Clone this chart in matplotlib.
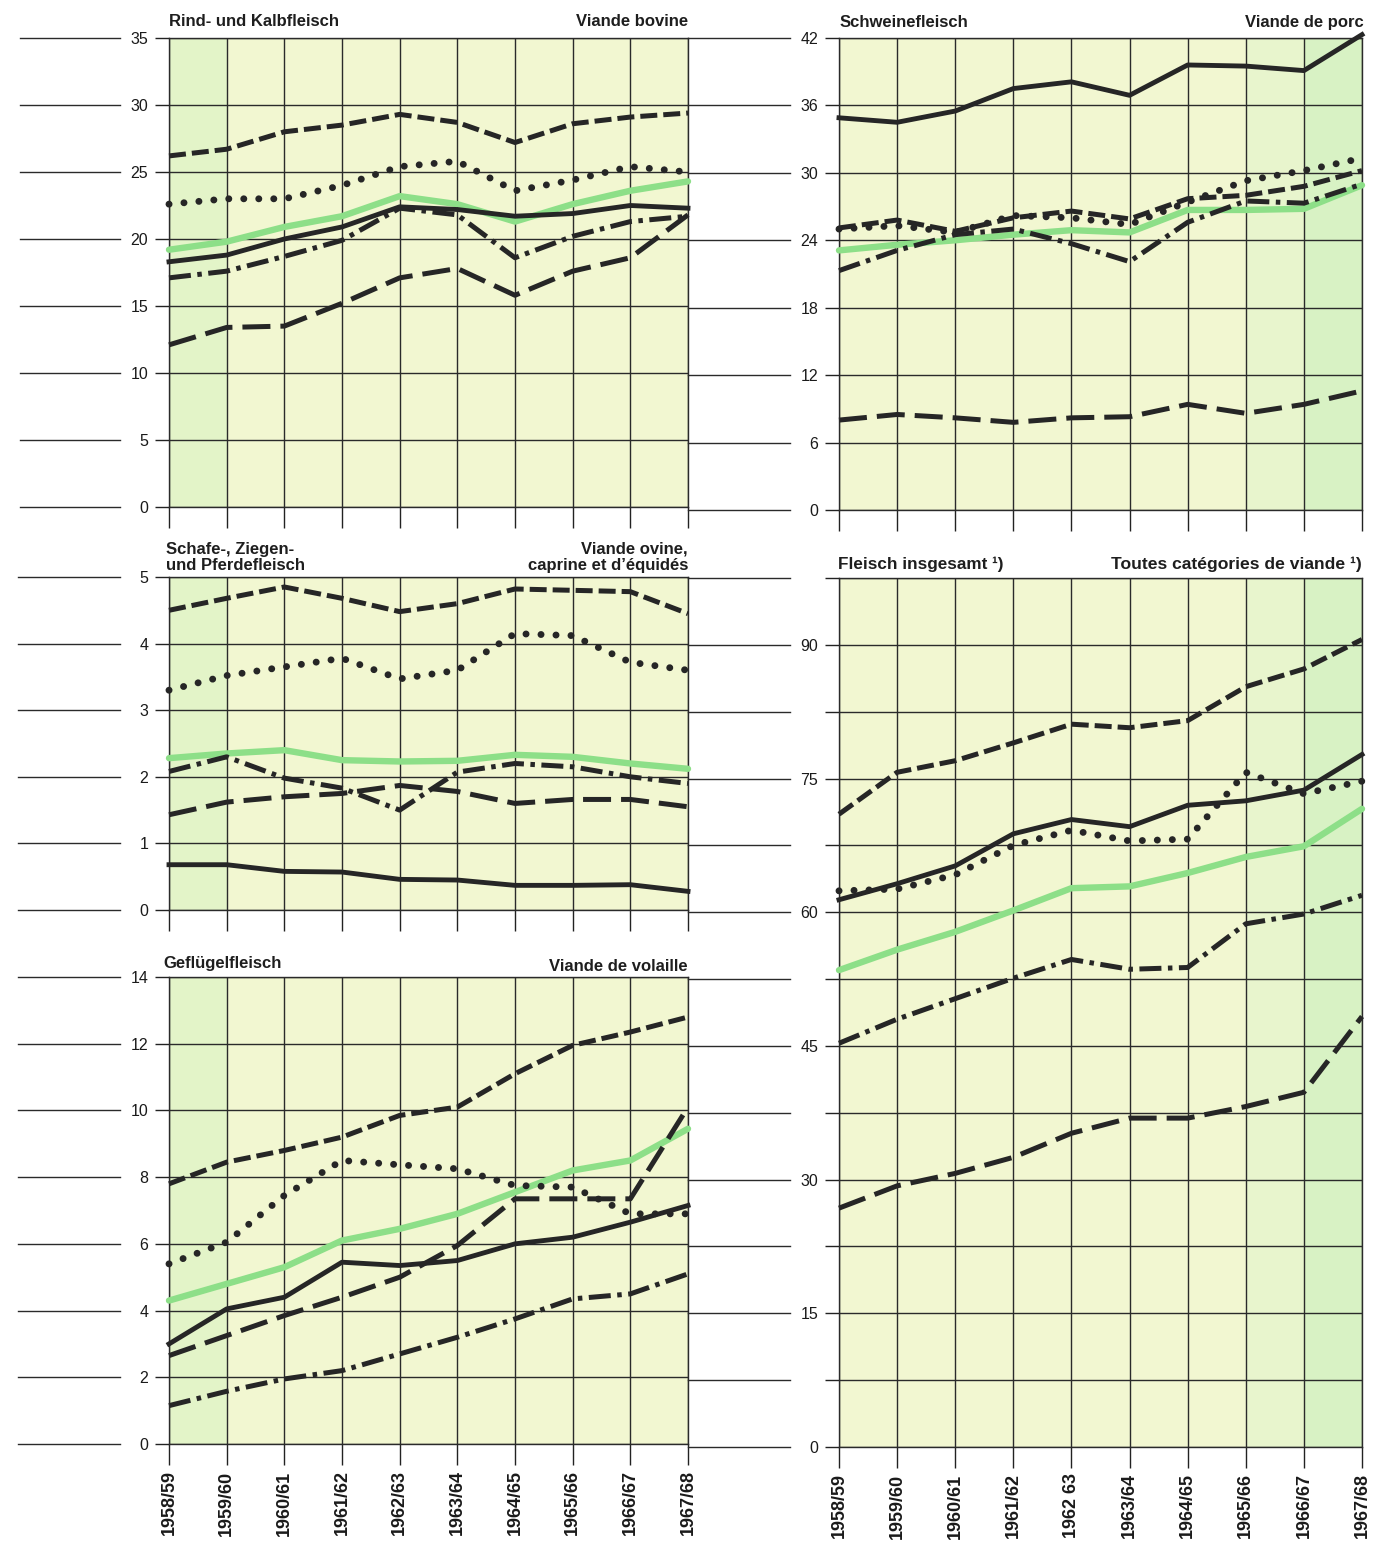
import matplotlib
matplotlib.use("Agg")
import matplotlib.pyplot as plt
from matplotlib.lines import Line2D
from matplotlib import transforms
from matplotlib import font_manager as fm

# ---------------- data ----------------
years = ["1958/59", "1959/60", "1960/61", "1961/62", "1962/63",
         "1963/64", "1964/65", "1965/66", "1966/67", "1967/68"]
years_right = ["1958/59", "1959/60", "1960/61", "1961/62", "1962 63",
               "1963/64", "1964/65", "1965/66", "1966/67", "1967/68"]

# Rind- und Kalbfleisch
beef_de = [18.3, 18.8, 20.0, 20.9, 22.4, 22.2, 21.7, 21.9, 22.5, 22.3]
beef_fr = [26.2, 26.7, 28.0, 28.5, 29.3, 28.7, 27.2, 28.6, 29.1, 29.4]
beef_it = [12.1, 13.4, 13.5, 15.2, 17.1, 17.8, 15.8, 17.6, 18.6, 21.8]
beef_nl = [17.1, 17.6, 18.7, 19.9, 22.3, 21.8, 18.6, 20.2, 21.3, 21.7]
beef_be = [22.6, 23.0, 23.0, 24.0, 25.4, 25.8, 23.6, 24.4, 25.4, 25.0]
beef_eec = [19.2, 19.8, 20.9, 21.7, 23.2, 22.6, 21.3, 22.6, 23.6, 24.3]

# Schafe-, Ziegen- und Pferdefleisch
sheep_de = [0.68, 0.68, 0.58, 0.57, 0.46, 0.45, 0.37, 0.37, 0.38, 0.28]
sheep_fr = [4.50, 4.68, 4.85, 4.68, 4.48, 4.60, 4.82, 4.80, 4.78, 4.45]
sheep_it = [1.43, 1.62, 1.70, 1.75, 1.87, 1.78, 1.60, 1.66, 1.66, 1.55]
sheep_nl = [2.08, 2.30, 1.98, 1.83, 1.50, 2.07, 2.20, 2.15, 2.00, 1.90]
sheep_be = [3.30, 3.52, 3.65, 3.78, 3.47, 3.60, 4.15, 4.12, 3.72, 3.60]
sheep_eec = [2.28, 2.35, 2.40, 2.25, 2.23, 2.24, 2.33, 2.30, 2.20, 2.12]

# Geflügelfleisch
poul_de = [3.0, 4.05, 4.4, 5.45, 5.35, 5.5, 6.0, 6.2, 6.65, 7.15]
poul_fr = [7.8, 8.45, 8.8, 9.2, 9.85, 10.1, 11.1, 11.95, 12.35, 12.8]
poul_it = [2.65, 3.25, 3.85, 4.4, 5.0, 5.95, 7.35, 7.35, 7.35, 10.1]
poul_nl = [1.15, 1.58, 1.95, 2.2, 2.7, 3.2, 3.75, 4.35, 4.5, 5.1]
poul_be = [5.4, 6.05, 7.45, 8.5, 8.37, 8.25, 7.75, 7.7, 6.9, 6.9]
poul_eec = [4.3, 4.8, 5.3, 6.1, 6.45, 6.9, 7.55, 8.2, 8.5, 9.45]

# Schweinefleisch
pork_de = [34.9, 34.5, 35.5, 37.5, 38.1, 36.9, 39.6, 39.5, 39.1, 42.3]
pork_fr = [25.1, 25.8, 24.8, 26.0, 26.6, 25.9, 27.7, 28.0, 28.8, 30.2]
pork_it = [8.0, 8.5, 8.2, 7.8, 8.2, 8.3, 9.4, 8.6, 9.4, 10.6]
pork_nl = [21.3, 23.1, 24.5, 25.0, 23.7, 22.1, 25.6, 27.5, 27.3, 29.0]
pork_be = [25.0, 25.3, 24.7, 26.2, 26.0, 25.4, 27.4, 29.3, 30.2, 31.3]
pork_eec = [23.1, 23.6, 24.0, 24.5, 24.9, 24.7, 26.7, 26.7, 26.8, 28.9]

# Fleisch insgesamt
total_de = [61.4, 63.2, 65.2, 68.8, 70.4, 69.6, 72.0, 72.5, 73.7, 77.7]
total_fr = [71.0, 75.7, 77.0, 79.0, 81.1, 80.7, 81.5, 85.3, 87.3, 90.6]
total_it = [26.8, 29.3, 30.7, 32.5, 35.2, 36.9, 36.9, 38.2, 39.8, 48.3]
total_nl = [45.3, 48.0, 50.3, 52.6, 54.7, 53.6, 53.8, 58.7, 59.8, 61.9]
total_be = [62.4, 62.6, 64.2, 67.5, 69.2, 68.0, 68.2, 75.7, 73.3, 74.7]
total_eec = [53.5, 55.8, 57.8, 60.2, 62.7, 62.9, 64.4, 66.2, 67.4, 71.6]

# ---------------- styles ----------------
INK = "#262626"
GREEN = "#8ddf88"
styles = {
    "eec": dict(color=GREEN, lw=4.6, ls="-", solid_capstyle="round"),
    "de": dict(color=INK, lw=3.5, ls="-"),
    "fr": dict(color=INK, lw=3.6, ls=(0, (3.4, 1.2))),
    "it": dict(color=INK, lw=3.6, ls=(0, (5.6, 2.0))),
    "nl": dict(color=INK, lw=3.6, ls=(0, (4.4, 1.3, 0.9, 1.3))),
    "be": dict(color=INK, lw=5.0, ls=(0, (0.01, 2.15)), dash_capstyle="round"),
}

names = set(fm.get_font_names())
NARROW = "Liberation Sans Narrow" if "Liberation Sans Narrow" in names else "Liberation Sans"
REG = "Liberation Sans"

W, H = 1376, 1543
fig = plt.figure(figsize=(W / 100, H / 100), dpi=100)
fig.patch.set_facecolor("white")

FACE = "#f2f7d1"


def make_ax(x0, y0, x1, y1):
    return fig.add_axes([x0 / W, 1 - y1 / H, (x1 - x0) / W, (y1 - y0) / H])


def panel(ax, series, ymax, step, labelstep, left_side, font, bottom_labels=None,
          green_cols=()):
    ax.set_facecolor(FACE)
    for (a, b, c) in green_cols:
        ax.axvspan(a, b, color=c, lw=0, zorder=0)
    ax.set_xlim(0, 9)
    ax.set_ylim(0, ymax)
    nt = int(round(ymax / step))
    ticks = [i * step for i in range(nt + 1)]
    ax.set_yticks(ticks)
    labels = []
    for t in ticks:
        if abs(t / labelstep - round(t / labelstep)) < 1e-6:
            labels.append("%g" % t)
        else:
            labels.append("")
    ax.set_yticklabels(labels, fontsize=11.5, family=font, color="#1a1a1a")
    ax.set_xticks(range(10))
    if bottom_labels is not None:
        ax.set_xticklabels(bottom_labels, rotation=90, fontsize=13,
                           fontweight="bold", family=NARROW, color="#1a1a1a",
                           va="top")
    else:
        ax.set_xticklabels([])
    ax.tick_params(axis="y", direction="out", length=10, width=1.0,
                   pad=5 if font == REG else 3, color="#222222")
    ax.tick_params(axis="x", direction="out", length=15, width=1.0,
                   pad=4, color="#222222")
    ax.grid(True, color="#2a2a2a", lw=1.0, zorder=1)
    ax.set_axisbelow(True)
    for s in ax.spines.values():
        s.set_color("#2a2a2a")
        s.set_linewidth(1.0)
    xs = list(range(10))
    for key in ["eec", "it", "nl", "be", "fr", "de"]:
        ax.plot(xs, series[key], zorder=3, clip_on=False, **styles[key])
    # decorative horizontal lines to the left of the tick labels
    tr = transforms.blended_transform_factory(fig.transFigure, ax.transData)
    xa, xb = left_side
    for t in ticks:
        fig.add_artist(Line2D([xa / W, xb / W], [t, t], transform=tr,
                              color="#2a2a2a", lw=1.0))


def title(x, y, s, ha, font=REG, size=12):
    fig.text(x / W, 1 - y / H, s, ha=ha, va="baseline", fontsize=size,
             fontweight="bold", family=font, color="#1e1e1e", linespacing=1.12)


green_left = [(0, 1, "#e3f4c8")]
green_right = [(7, 8, "#e8f5cd"), (8, 9, "#d8f2c4")]

# P1 beef
ax1 = make_ax(169, 38, 688, 507)
panel(ax1, dict(de=beef_de, fr=beef_fr, it=beef_it, nl=beef_nl, be=beef_be, eec=beef_eec),
      35, 5, 5, (20, 120), REG, green_cols=green_left)
title(169, 26, "Rind- und Kalbfleisch", "left")
title(688, 26, "Viande bovine", "right")

# P2 sheep
ax2 = make_ax(169, 577, 688, 910)
panel(ax2, dict(de=sheep_de, fr=sheep_fr, it=sheep_it, nl=sheep_nl, be=sheep_be, eec=sheep_eec),
      5, 1, 1, (18, 120), REG, green_cols=green_left)
title(166, 570, "Schafe-, Ziegen-\nund Pferdefleisch", "left")
title(688, 570, "Viande ovine,\ncaprine et d\u2019\u00e9quid\u00e9s", "right")

# P3 poultry
ax3 = make_ax(169, 977, 688, 1444)
panel(ax3, dict(de=poul_de, fr=poul_fr, it=poul_it, nl=poul_nl, be=poul_be, eec=poul_eec),
      14, 2, 2, (18, 120), REG, bottom_labels=years, green_cols=green_left)
title(163, 968, "Gefl\u00fcgelfleisch", "left")
title(688, 971, "Viande de volaille", "right")

# P4 pork
ax4 = make_ax(839, 38, 1362, 510)
panel(ax4, dict(de=pork_de, fr=pork_fr, it=pork_it, nl=pork_nl, be=pork_be, eec=pork_eec),
      42, 6, 6, (688, 790), NARROW, green_cols=green_right)
title(840, 27, "Schweinefleisch", "left")
title(1364, 27, "Viande de porc", "right")

# P5 total
ax5 = make_ax(839, 578, 1362, 1447)
panel(ax5, dict(de=total_de, fr=total_fr, it=total_it, nl=total_nl, be=total_be, eec=total_eec),
      97.5, 7.5, 15, (688, 790), NARROW, bottom_labels=years_right, green_cols=green_right)
title(838, 569, "Fleisch insgesamt \u00b9)", "left", font=NARROW, size=12.3)
title(1362, 569, "Toutes cat\u00e9gories de viande \u00b9)", "right", font=NARROW, size=12.6)

fig.savefig("out.png", dpi=100, facecolor="white")
